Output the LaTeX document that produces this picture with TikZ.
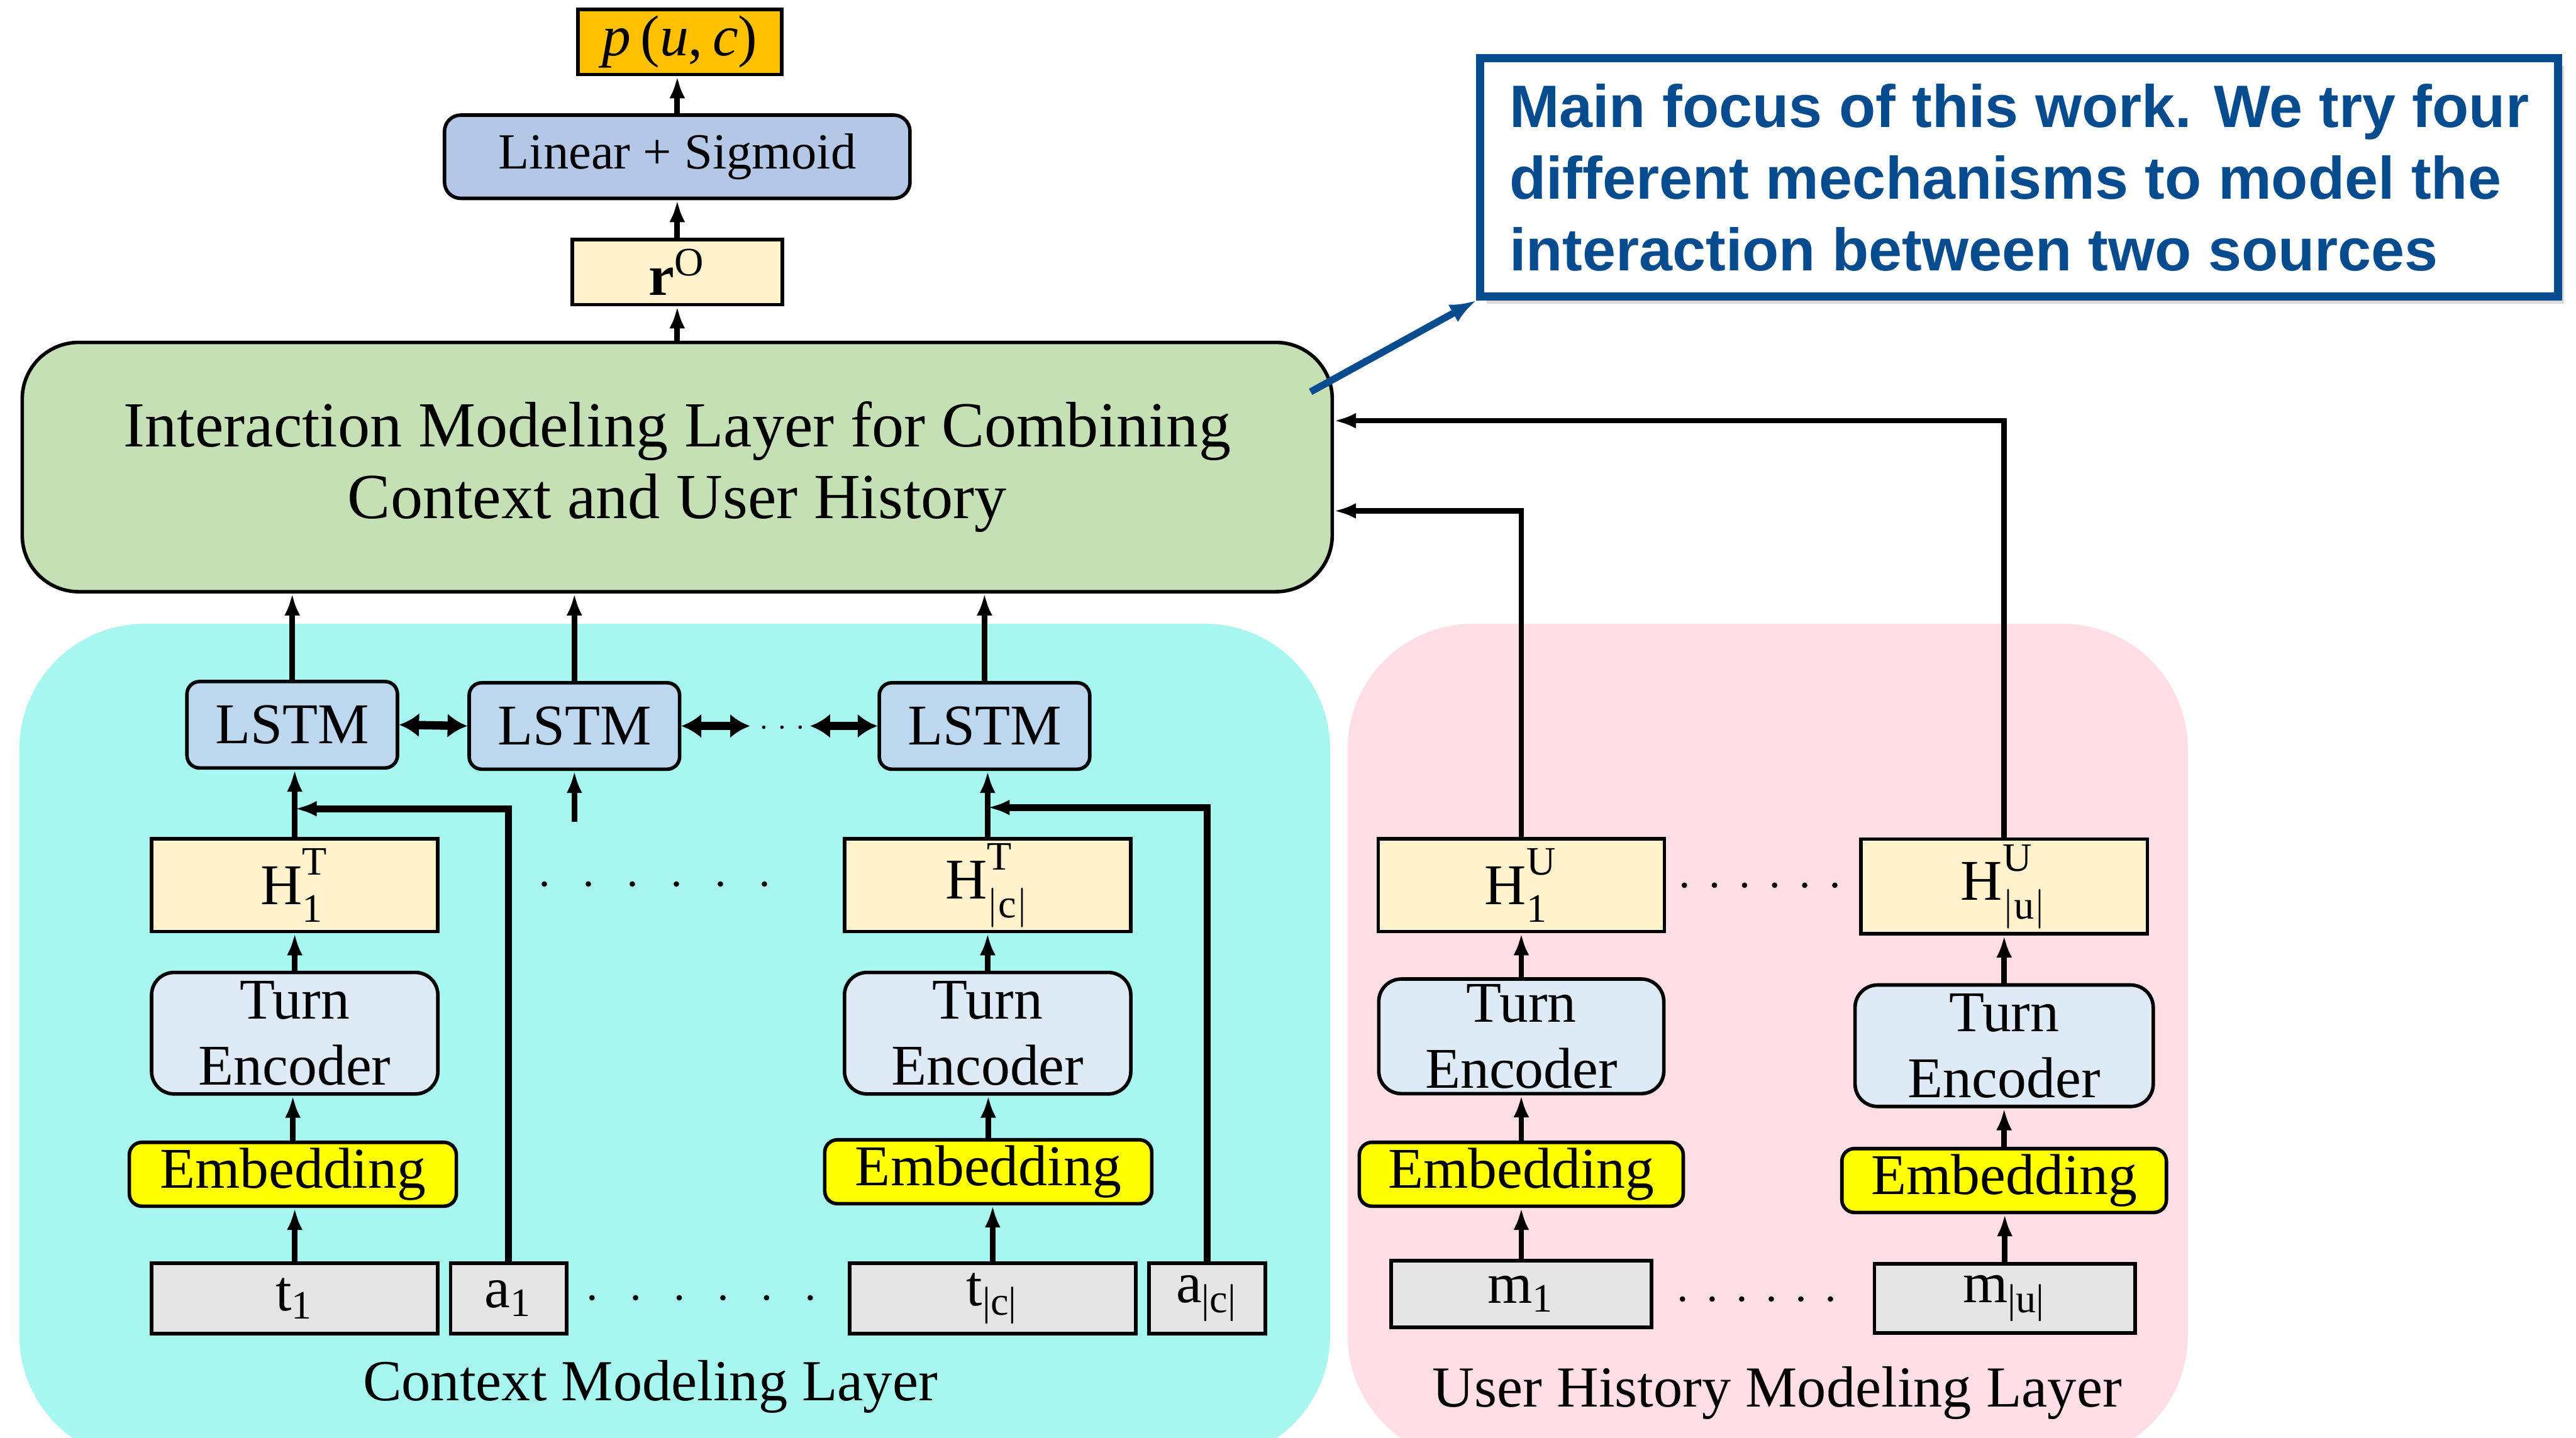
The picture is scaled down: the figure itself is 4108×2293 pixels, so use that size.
\documentclass[tikz,border=0pt]{standalone}
\usepackage{fontspec}
\setmainfont{Liberation Serif}
\newfontfamily\calloutfont{Liberation Sans}
\usetikzlibrary{arrows.meta,shadows}
\definecolor{outorange}{HTML}{FFC000}
\definecolor{linblue}{HTML}{B4C7E7}
\definecolor{hidyellow}{HTML}{FFF2CC}
\definecolor{intgreen}{HTML}{C5E0B4}
\definecolor{lstmblue}{HTML}{BDD7EE}
\definecolor{encblue}{HTML}{DEEBF7}
\definecolor{embyellow}{HTML}{FFFF00}
\definecolor{inpgray}{HTML}{E5E5E5}
\definecolor{ctxcyan}{HTML}{A7F6F0}
\definecolor{usrpink}{HTML}{FFDEE6}
\definecolor{calloutblue}{HTML}{074C8E}
\newcommand{\hvec}[2]{$\mathrm{H}^{\mathrm{#1}\rule[-2.5pt]{0pt}{0pt}}_{\rule{0pt}{6.5pt}\mathrm{#2}}$}

\begin{document}
\begin{tikzpicture}[x=0.005cm, y=-0.005cm,
  box/.style={draw, line width=0.8pt, inner sep=0pt, align=center, font=\fontsize{13.1}{15}\selectfont},
  lstm/.style={box, fill=lstmblue, rounded corners=0.1cm, minimum width=1.68cm, minimum height=0.69cm},
  hid/.style={box, fill=hidyellow, minimum width=2.285cm, minimum height=0.74cm},
  enc/.style={box, fill=encblue, rounded corners=0.18cm, minimum width=2.285cm, minimum height=0.97cm},
  emb/.style={box, fill=embyellow, rounded corners=0.1cm, minimum width=2.61cm, minimum height=0.51cm},
  inp/.style={box, fill=inpgray, minimum height=0.56cm},
  lbl/.style={font=\fontsize{13.2}{15}\selectfont, inner sep=0pt},
  arr/.style={-{Latex[length=5pt,width=3.6pt]}, line width=1.25pt},
  biarr/.style={{Latex[length=4.5pt,width=5.5pt]}-{Latex[length=4.5pt,width=5.5pt]}, line width=1.9pt},
  layer/.style={rounded corners=1cm}]
  \useasboundingbox (0,0) rectangle (4108,2293);
  \fill[ctxcyan, layer] (31,995) rectangle (2121,2330);
  \fill[usrpink, layer] (2149,995) rectangle (3489,2330);

  \node[box, fill=outorange, minimum width=1.625cm, minimum height=0.52cm] (pout) at (1084,67) {\textit{p}\,(\textit{u},\,\textit{c})};
  \node[box, fill=linblue, rounded corners=0.13cm, minimum width=3.715cm, minimum height=0.665cm, font=\fontsize{11.5}{14}\selectfont] (lin) at (1080,250) {Linear + Sigmoid};
  \node[box, fill=hidyellow, minimum width=1.675cm, minimum height=0.52cm] (ro) at (1080,434) {$\mathbf{r}^{\mathrm{O}}$};
  \node[box, fill=intgreen, rounded corners=0.45cm, minimum width=10.455cm, minimum height=1.99cm, font=\fontsize{14.6}{16.3}\selectfont] (inter) at (1080,745) {Interaction Modeling Layer for Combining\\Context and User History};

  \node[lstm] (l1) at (466,1156) {LSTM};
  \node[lstm] (l2) at (916,1158) {LSTM};
  \node[lstm] (l3) at (1570,1158) {LSTM};
  \node[hid] (h1) at (470,1412) {\hvec{T}{1}};
  \node[hid] (hc) at (1575,1412) {\hvec{T}{|c|}};
  \node[enc] (te1) at (470,1648) {Turn\\Encoder};
  \node[enc] (te2) at (1575,1648) {Turn\\Encoder};
  \node[emb] (e1) at (467,1873) {Embedding};
  \node[emb] (e2) at (1576,1869) {Embedding};
  \node[inp, minimum width=2.285cm] (t1) at (470,2071) {t\textsubscript{1}};
  \node[inp, minimum width=0.925cm] (a1) at (811,2071) {a\textsubscript{1}};
  \node[inp, minimum width=2.285cm] (tc) at (1583,2071) {t\textsubscript{|c|}};
  \node[inp, minimum width=0.93cm] (ac) at (1925,2071) {a\textsubscript{|c|}};
  \node[lbl] (ctxlbl) at (1037,2212) {Context Modeling Layer};

  \node[hid] (hu1) at (2426,1412) {\hvec{U}{1}};
  \node[hid, minimum height=0.755cm] (hu2) at (3196,1414) {\hvec{U}{|u|}};
  \node[enc, minimum width=2.275cm, minimum height=0.915cm] (teu1) at (2426,1653) {Turn\\Encoder};
  \node[enc, minimum width=2.38cm] (teu2) at (3196,1668) {Turn\\Encoder};
  \node[emb, minimum width=2.585cm] (eu1) at (2426,1873) {Embedding};
  \node[emb, minimum width=2.59cm] (eu2) at (3196,1883) {Embedding};
  \node[inp, minimum width=2.08cm, minimum height=0.53cm] (m1) at (2426,2064) {m\textsubscript{1}};
  \node[inp, minimum width=2.08cm, minimum height=0.55cm] (mu) at (3197,2071) {m\textsubscript{|u|}};
  \node[lbl] (usrlbl) at (2834,2222) {User History Modeling Layer};

  \node[draw=calloutblue, line width=1.85pt, fill=white, drop shadow={shadow xshift=0.5mm, shadow yshift=-0.6mm, opacity=0.3}, minimum width=8.6cm, minimum height=1.9cm, align=left, inner sep=0pt, text=calloutblue, font=\calloutfont\bfseries\fontsize{13.6}{16.3}\selectfont] (callout) at (3220,283) {Main focus of this work. We try four\\different mechanisms to model the\\interaction between two sources};

  \foreach \a/\b in {t1/e1,e1/te1,te1/h1,h1/l1,tc/e2,e2/te2,te2/hc,hc/l3,m1/eu1,eu1/teu1,teu1/hu1,mu/eu2,eu2/teu2,teu2/hu2,ro/lin,lin/pout}
    \draw[arr] (\a.north) -- (\a.north |- \b.south);
  \foreach \a in {l1,l2,l3}
    \draw[arr] (\a.north) -- (\a.north |- inter.south);
  \draw[arr] (inter.north) -- (inter.north |- ro.south);

  \coordinate (l2in) at (916,1311);
  \draw[arr] (l2in) -- (l2.south);
  \coordinate (j1) at (470,1290);
  \coordinate (j2) at (1575,1288);
  \draw[arr, line width=1.6pt] (a1.north) |- (j1);
  \draw[arr, line width=1.6pt] (ac.north) |- (j2);

  \coordinate (d1) at (1196,1158);
  \coordinate (d2) at (1292,1158);
  \draw[biarr] (l1.east) -- (l2.west);
  \draw[biarr] (l2.east) -- (d1);
  \draw[biarr] (d2) -- (l3.west);
  \foreach \i in {0,1,2}
    \fill (1218+\i*29,1160) circle[radius=0.014cm];

  \foreach \i in {0,...,5} {
    \fill (868+\i*70.2,1410) circle[radius=0.022cm];
    \fill (944+\i*69.6,2070) circle[radius=0.022cm];
    \fill (2686+\i*48,1412) circle[radius=0.022cm];
    \fill (2683+\i*47.2,2072) circle[radius=0.022cm];
  }

  \draw[arr] (hu1.north) |- ([yshift=-3.5mm]inter.east);
  \draw[arr] (hu2.north) |- ([yshift=3.7mm]inter.east);

  \coordinate (cstart) at (2090,625);
  \draw[-{Latex[length=6pt,width=4.5pt]}, calloutblue, line width=1.6pt] (cstart) -- (callout.south west);
\end{tikzpicture}
\end{document}
